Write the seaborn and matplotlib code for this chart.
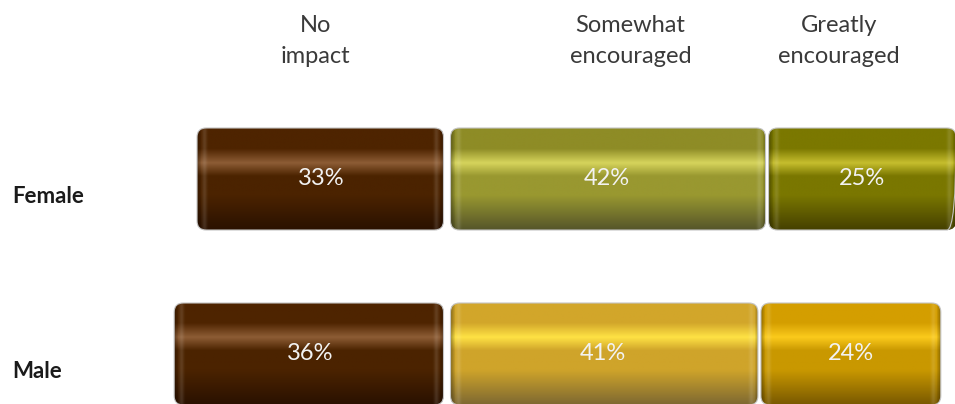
import numpy as np
import matplotlib
matplotlib.use("Agg")
import matplotlib.pyplot as plt
import seaborn as sns
from matplotlib.patches import FancyBboxPatch
from matplotlib.colors import to_rgb

# data
groups = ["Female", "Male"]
categories = ["No impact", "Somewhat encouraged", "Greatly encouraged"]
no_impact = [33, 36]
somewhat = [42, 41]
greatly = [25, 24]
header_labels = ["No\nimpact", "Somewhat\nencouraged", "Greatly\nencouraged"]

# layout (pixel based, figure is 955x404 at dpi 100)
W_PX, H_PX = 955, 404
ZERO_PX, PX_PER_PCT = 447, 7.62
ROW0_PX, PX_PER_ROW = 179, 175
BAR_H = 102 / PX_PER_ROW
header_x = [-17.3, 24.1, 51.4]   # header centres in percent units
header_y = -0.79

# cylinder shading: top, highlight, middle, bottom
shades = {
    ("No impact", "Female"): ["#4e2400", "#8d5d35", "#4b2300", "#2a1100"],
    ("No impact", "Male"): ["#4e2400", "#8d5d35", "#4b2300", "#2a1100"],
    ("Somewhat encouraged", "Female"): ["#8e8c26", "#d6d45c", "#999830", "#55552a"],
    ("Somewhat encouraged", "Male"): ["#d2a62a", "#ffe244", "#cfa42a", "#7d6832"],
    ("Greatly encouraged", "Female"): ["#7b7800", "#c6be2e", "#7a7700", "#454000"],
    ("Greatly encouraged", "Male"): ["#d49e00", "#fbca1c", "#c99800", "#785800"],
}


def vertical_gradient(cols, n=200):
    top, hl, mid, bot = [np.array(to_rgb(c)) for c in cols]
    stops = [0.0, 0.20, 0.34, 0.47, 0.66, 1.0]
    colors = [top, top, hl, mid, mid, bot]
    t = np.linspace(0, 1, n)
    img = np.zeros((n, 1, 3))
    for k in range(3):
        img[:, 0, k] = np.interp(t, stops, [c[k] for c in colors])
    return img


def end_caps(w_px):
    # darker rim and soft light line near both ends of each cylinder
    n = max(int(w_px), 2)
    d = np.minimum(np.arange(n), np.arange(n)[::-1]).astype(float)
    img = np.zeros((1, n, 4))
    rim = np.clip(1 - d / 4.0, 0, 1) * 0.3
    glow = np.exp(-((d - 7) / 2.5) ** 2) * 0.12
    img[0, :, :3] = np.where(rim[:, None] > glow[:, None], 0.0, 1.0)
    img[0, :, 3] = np.maximum(rim, glow)
    return img


sns.set_theme(style="white")
plt.rcParams["font.family"] = ["Lato", "DejaVu Sans"]

fig = plt.figure(figsize=(W_PX / 100, H_PX / 100), dpi=100)
ax = fig.add_axes([0, 0, 1, 1])

segments = [
    (categories[0], no_impact, [-v for v in no_impact]),
    (categories[1], somewhat, [0 for _ in somewhat]),
    (categories[2], greatly, somewhat),
]

bars = []
for cat, vals, lefts in segments:
    n_before = len(ax.patches)
    sns.barplot(x=vals, y=groups, left=lefts, orient="y", width=BAR_H,
                color="#888888", errorbar=None, ax=ax)
    for grp, val, patch in zip(groups, vals, ax.patches[n_before:]):
        bars.append((cat, grp, val, patch))

xmin = -ZERO_PX / PX_PER_PCT
xmax = (W_PX - ZERO_PX) / PX_PER_PCT
ytop = -ROW0_PX / PX_PER_ROW
ybot = (H_PX - ROW0_PX) / PX_PER_ROW
ax.set_xlim(xmin, xmax)
ax.set_ylim(ybot, ytop)
ax.axis("off")

r_px = 9
aspect = PX_PER_PCT / PX_PER_ROW
for cat, grp, val, patch in bars:
    x0, y0 = patch.get_x(), patch.get_y()
    w, h = patch.get_width(), patch.get_height()
    patch.set_visible(False)
    # small gaps between segments, wider at the zero line
    gl = 3.5 if abs(x0) < 1e-9 else 1.5
    gr = 3.5 if abs(x0 + w) < 1e-9 else 1.5
    gx0 = x0 + gl / PX_PER_PCT
    gx1 = x0 + w - gr / PX_PER_PCT
    clip = FancyBboxPatch((gx0, y0), gx1 - gx0, h,
                          boxstyle=f"round,pad=0,rounding_size={r_px / PX_PER_PCT}",
                          mutation_aspect=aspect, transform=ax.transData,
                          facecolor="none", edgecolor="#c4c4c4", linewidth=0.8, zorder=4)
    ax.add_patch(clip)
    im = ax.imshow(vertical_gradient(shades[(cat, grp)]), extent=(gx0, gx1, y0 + h, y0),
                   aspect="auto", interpolation="bilinear", zorder=2)
    im.set_clip_path(clip)
    caps = ax.imshow(end_caps((gx1 - gx0) * PX_PER_PCT), extent=(gx0, gx1, y0 + h, y0),
                     aspect="auto", interpolation="bilinear", zorder=3)
    caps.set_clip_path(clip)
    ax.text(x0 + w / 2, y0 + h / 2, f"{val}%", ha="center", va="center",
            fontsize=17, color="#f2f2f2", zorder=5)

ax.set_xlim(xmin, xmax)
ax.set_ylim(ybot, ytop)

for i, grp in enumerate(groups):
    ax.text(12 / W_PX, i + 0.1, grp, transform=ax.get_yaxis_transform(),
            ha="left", va="center", fontsize=16, fontweight="bold", color="#1a1a1a")

for x, lab in zip(header_x, header_labels):
    ax.text(x, header_y, lab, ha="center", va="center", fontsize=17,
            linespacing=1.6, color="#3a3a3a")

fig.savefig("out.png", dpi=100)
